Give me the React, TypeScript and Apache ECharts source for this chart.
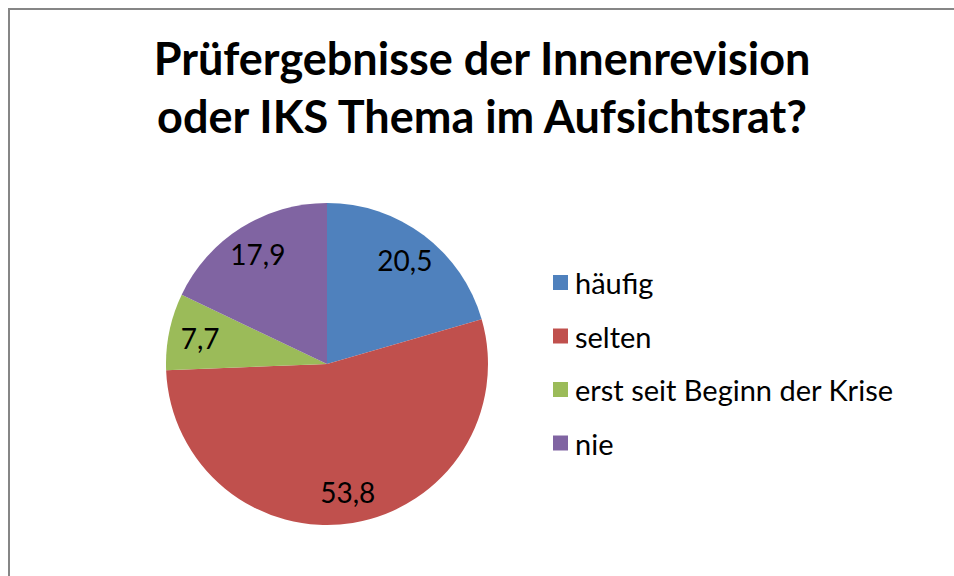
import React, { useEffect, useRef } from "react";
import * as echarts from "echarts";

const categories = ["häufig", "selten", "erst seit Beginn der Krise", "nie"];
const values = [20.5, 53.8, 7.7, 17.9];
const colors = ["#4F81BD", "#C0504D", "#9BBB59", "#8064A2"];
const titleText = "Prüfergebnisse der Innenrevision\noder IKS Thema im Aufsichtsrat?";

const FONT = "Lato, 'Noto Sans', sans-serif";

export default function App() {
  const ref = useRef<HTMLDivElement>(null);
  useEffect(() => {
    if (!ref.current) return;
    const chart = echarts.init(ref.current, null, { renderer: "svg" });
    const data = categories.map((name, i) => ({
      name,
      value: values[i],
      itemStyle: { color: colors[i] },
    }));
    chart.setOption({
      animation: false,
      backgroundColor: "#ffffff",
      title: {
        text: titleText,
        left: "center",
        top: 19,
        padding: [0, 0, 0, 24],
        textStyle: {
          fontFamily: FONT,
          fontWeight: "bold",
          fontSize: 45,
          lineHeight: 58,
          color: "#000000",
        },
      },
      legend: {
        orient: "vertical",
        left: 538,
        top: 253,
        itemWidth: 15,
        itemHeight: 15,
        itemGap: 24.5,
        icon: "rect",
        data: categories,
        textStyle: {
          fontFamily: FONT,
          fontSize: 29,
          lineHeight: 20,
          color: "#000000",
          padding: [0, 0, 0, 2],
        },
      },
      series: [
        {
          type: "pie",
          center: [317, 354],
          radius: 161,
          startAngle: 90,
          clockwise: true,
          silent: true,
          label: { show: false },
          labelLine: { show: false },
          itemStyle: { borderWidth: 0 },
          data,
        },
        {
          type: "pie",
          center: [317, 354],
          radius: [92, 161],
          startAngle: 90,
          clockwise: true,
          silent: true,
          itemStyle: { color: "rgba(0,0,0,0)", borderWidth: 0 },
          labelLine: { show: false },
          label: {
            show: true,
            position: "inside",
            fontFamily: FONT,
            fontSize: 28,
            color: "#000000",
            formatter: (p: any) => String(p.value).replace(".", ","),
          },
          data: categories.map((name, i) => ({ name, value: values[i] })),
        },
      ],
    });
    return () => chart.dispose();
  }, []);
  return (
    <div
      style={{
        position: "fixed",
        left: 0,
        top: 0,
        width: 954,
        height: 576,
        overflow: "hidden",
        background: "#ffffff",
        zIndex: 10,
      }}
    >
      <div
        style={{
          position: "absolute",
          left: 8,
          top: 8,
          width: 960,
          height: 580,
          boxSizing: "border-box",
          borderLeft: "2px solid #868686",
          borderTop: "2px solid #868686",
          background: "#ffffff",
        }}
      >
        <div ref={ref} style={{ width: 944, height: 566 }} />
      </div>
    </div>
  );
}
